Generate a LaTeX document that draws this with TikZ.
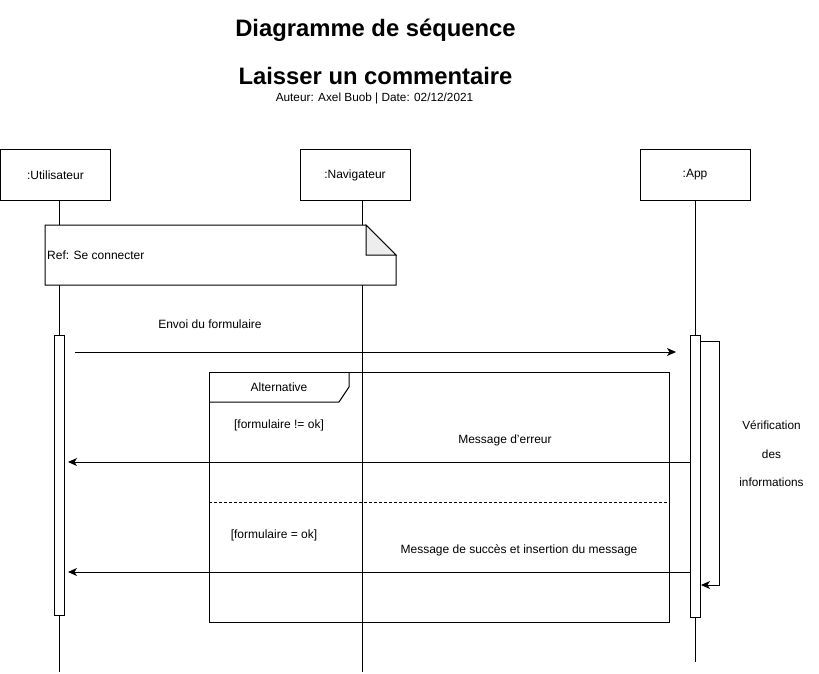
\documentclass[tikz,border=0pt]{standalone}
\usepackage{fontspec}
\setmainfont{Liberation Sans}
\usetikzlibrary{arrows.meta}
\begin{document}
\begin{tikzpicture}[x=1pt,y=-1pt,
  lbl/.style={font=\fontsize{12}{14}\selectfont, inner sep=0},
  head/.style={draw, line width=1pt, fill=white, minimum width=110pt, minimum height=50pt, inner sep=0, font=\fontsize{12}{14}\selectfont},
  life/.style={line width=1pt},
  frame/.style={line width=1pt},
  msg/.style={line width=1pt, -{Stealth[length=9pt,width=8pt,inset=2.5pt]}},
  act/.style={draw, fill=white, line width=1pt, minimum width=10pt, inner sep=0}]
\useasboundingbox (0,0) rectangle (819,674);

% titles
\node[font=\bfseries\fontsize{23.8}{28}\selectfont] (t1) at (375.5,30.5) {Diagramme de séquence};
\node[font=\bfseries\fontsize{23.8}{28}\selectfont] (t2) at (375.5,76) {Laisser un commentaire};
\node[font=\fontsize{11.8}{14}\selectfont] (t3) at (374.5,98.5) {Auteur: Axel Buob | Date: 02/12/2021};

% lifeline heads
\node[head] (u) at (55.5,175) {:Utilisateur};
\node[head] (n) at (355,175) {:Navigateur};
\node[head] (a) at (695,175) {:App};

% lifelines
\coordinate (ub) at (59.5,672);
\coordinate (nb) at (362,672);
\coordinate (ab) at (695,662);
\draw[life] (u.south -| ub) -- (ub);
\draw[life] (n.south -| nb) -- (nb);
\draw[life] (a.south -| ab) -- (ab);

% ref box
\draw[frame, fill=white] (45,225) -- (366,225) -- (396,255) -- (396,285) -- (45,285) -- cycle;
\draw[frame, fill=black!7] (366,225) -- (366,255) -- (396,255) -- cycle;
\node[lbl, anchor=west] (ref) at (47,255) {Ref: Se connecter};

% activations
\node[act, minimum height=280pt] (ua) at (59.5,475) {};
\node[act, minimum height=282pt] (aa) at (695.3,476) {};

% alternative frame
\draw[frame] (209,372) rectangle (669,622);
\draw[frame] (209,402) -- (339,402) -- (349,387) -- (349,372);
\node[lbl] (alt) at (279,387) {Alternative};
\draw[line width=0.8pt, dash pattern=on 3pt off 2pt] (209,502) -- (669,502);
\node[lbl] (g1) at (279,425) {[formulaire != ok]};
\node[lbl] (g2) at (274,535) {[formulaire = ok]};

% messages
\coordinate (m1s) at (75,352);
\coordinate (m1e) at (676,352);
\draw[msg] (m1s) -- (m1e);
\node[lbl] (l1) at (210,324) {Envoi du formulaire};

\coordinate (m2s) at (690,462);
\coordinate (m2e) at (68,462);
\draw[msg] (m2s) -- (m2e);
\node[lbl] (l2) at (505,440) {Message d'erreur};

\coordinate (m3s) at (690,572);
\coordinate (m3e) at (68,572);
\draw[msg] (m3s) -- (m3e);
\node[lbl] (l3) at (519,550) {Message de succès et insertion du message};

% self message
\coordinate (s1) at (700.3,341);
\coordinate (s2) at (719,341);
\coordinate (s3) at (719,585);
\coordinate (s4) at (701,585);
\draw[msg] (s1) -- (s2) -- (s3) -- (s4);
\node[lbl, align=center, font=\fontsize{11.8}{28.5}\selectfont] (lv) at (771.5,454) {Vérification\\des\\informations};
\end{tikzpicture}
\end{document}
